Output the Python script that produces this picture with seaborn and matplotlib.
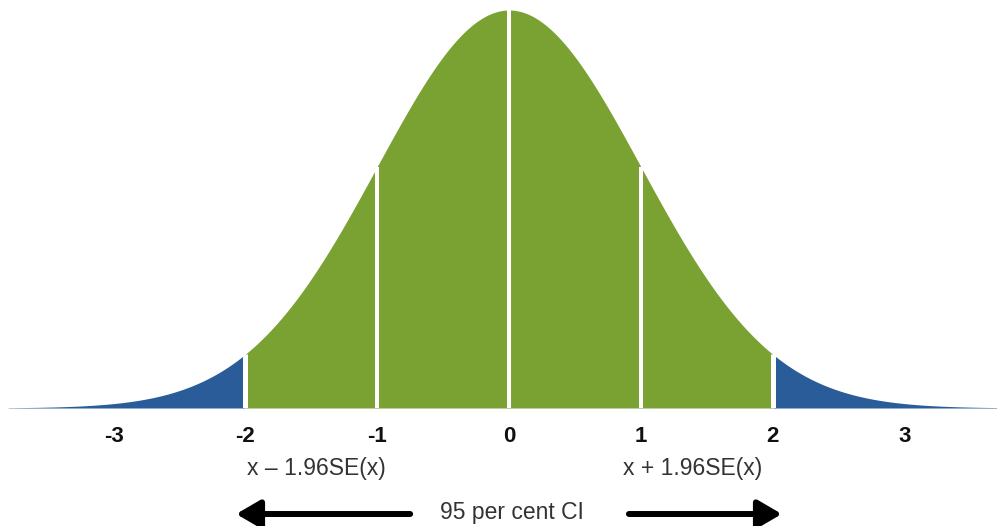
import numpy as np
import matplotlib
matplotlib.use("Agg")
import matplotlib.pyplot as plt
import matplotlib.transforms as mtransforms
import seaborn as sns

# distribution parameters and markers
MEAN = 0.0
SD = 1.0
tick_values = [-3, -2, -1, 0, 1, 2, 3]
tick_labels = ["-3", "-2", "-1", "0", "1", "2", "3"]
divider_values = [-2, -1, 0, 1, 2]
ci_low, ci_high = -2, 2
curve_start, curve_end = -3.8, 3.7
lower_label = "x \u2013 1.96SE(x)"
upper_label = "x + 1.96SE(x)"
ci_label = "95 per cent CI"

GREEN = "#79a232"
BLUE = "#2a5c99"

sns.set_theme(style="white")
plt.rcParams["font.family"] = ["Liberation Sans", "DejaVu Sans"]

x = np.linspace(curve_start, curve_end, 1500)
pdf = np.exp(-0.5 * ((x - MEAN) / SD) ** 2) / (SD * np.sqrt(2 * np.pi))
peak = 1 / (SD * np.sqrt(2 * np.pi))

fig = plt.figure(figsize=(9.99, 5.26), dpi=100)
ax = fig.add_axes([0, 118 / 526, 1, 398 / 526])

mid = (x >= ci_low) & (x <= ci_high)
left = x <= ci_low
right = x >= ci_high
ax.fill_between(x, 0, pdf, where=mid, color=GREEN, lw=0)
ax.fill_between(x, 0, pdf, where=left, color=BLUE, lw=0)
ax.fill_between(x, 0, pdf, where=right, color=BLUE, lw=0)

div_heights = np.exp(-0.5 * ((np.array(divider_values) - MEAN) / SD) ** 2) / (SD * np.sqrt(2 * np.pi))
for d, h in zip(divider_values, div_heights):
    w = 3.6 if abs(d) == 2 else 2.9
    ax.plot([d, d], [0, h], color="white", lw=w, solid_capstyle="butt")

ax.set_xlim(-509 / 131.8, 490 / 131.8)
ax.set_ylim(0, peak)
ax.set_yticks([])
ax.set_xticks(tick_values)
ax.set_xticklabels(tick_labels, fontsize=16, fontweight="bold", color="#111111")
ax.tick_params(axis="x", length=0, pad=13)
sns.despine(ax=ax, left=True, bottom=True, top=True, right=True)
ax.patch.set_alpha(0)

trans = mtransforms.blended_transform_factory(ax.transData, fig.transFigure)
ax.text(-1.46, 1 - 468 / 526, lower_label, transform=trans, ha="center", va="center",
        fontsize=16.5, color="#333333")
ax.text(1.39, 1 - 468 / 526, upper_label, transform=trans, ha="center", va="center",
        fontsize=16.5, color="#333333")
ax.text(0.02, 1 - 512 / 526, ci_label, transform=trans, ha="center", va="center",
        fontsize=16.5, color="#333333")

arrow_y = 1 - 514 / 526
head = "-|>,head_length=1.2,head_width=0.7"
ax.annotate("", xy=(ci_low - 0.07, arrow_y), xytext=(-0.75, arrow_y),
            xycoords=trans, textcoords=trans,
            arrowprops=dict(arrowstyle=head, color="black", lw=4.3,
                            shrinkA=0, shrinkB=0))
ax.annotate("", xy=(ci_high + 0.07, arrow_y), xytext=(0.91, arrow_y),
            xycoords=trans, textcoords=trans,
            arrowprops=dict(arrowstyle=head, color="black", lw=4.3,
                            shrinkA=0, shrinkB=0))

fig.savefig("out.png", dpi=100)
